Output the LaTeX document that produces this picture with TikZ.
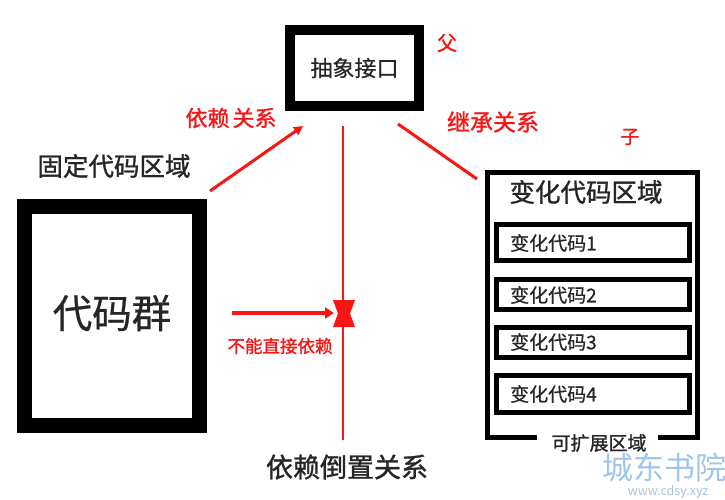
\documentclass[tikz,border=0pt]{standalone}
\usepackage{fontspec}
\setmainfont{Noto Sans CJK SC}
\newfontfamily\bcjk{Noto Sans CJK SC}[FakeBold=1.2]
\newfontfamily\mcjk{Noto Sans CJK SC}[FakeBold=0.6]
\usetikzlibrary{arrows.meta}
\definecolor{rd}{RGB}{250,20,20}
\definecolor{wm}{RGB}{160,198,236}
\definecolor{wm2}{RGB}{175,195,215}
\newcommand{\fs}[1]{\fontsize{#1}{#1}\selectfont}
\tikzset{
  lbl/.style={inner sep=0pt, text=black!85},
  rlbl/.style={inner sep=0pt, text=rd},
  heavy/.style={draw=black, line width=#1},
  rline/.style={draw=rd, line width=3pt},
}
\begin{document}
\begin{tikzpicture}[x=1pt,y=-1pt]
\useasboundingbox (0,0) rectangle (725,499);
\fill[white] (0,0) rectangle (725,499);
% abstract interface
\draw[heavy=10pt] (290,30) rectangle (419,106);
\node[lbl, font=\mcjk\fs{22}] (iface) at (354.5,68) {抽象接口};
\node[rlbl, font=\bcjk\fs{20}] (fu) at (447,43) {父};
\node[rlbl, font=\bcjk\fs{22}] (dep) at (231,118) {依赖\hspace{3pt}关系};
\node[rlbl, font=\bcjk\fs{23}] (inh) at (493,122) {继承关系};
\node[rlbl, font=\bcjk\fs{19}] (zi) at (630,137) {子};
% fixed region
\node[lbl, font=\bcjk\fs{25.5}] (fixed) at (114,166) {固定代码区域};
\draw[heavy=15pt] (24.5,206.5) rectangle (199.5,425.5);
\node[lbl, font=\mcjk\fs{39.5}] (grp) at (112,313) {代码群};
% connectors
\coordinate (a1) at (210,191);
\coordinate (a2) at (303,126);
\draw[rline, -{Triangle[length=9pt,width=9pt]}] (a1) -- (a2);
\coordinate (b1) at (398,124);
\coordinate (b2) at (477,179);
\draw[rline] (b1) -- (b2);
\coordinate (v1) at (343,126);
\coordinate (v2) at (343,440);
\draw[draw=rd, line width=1.6pt] (v1) -- (v2);
\coordinate (c1) at (232,313);
\coordinate (xm) at (343,313);
\draw[draw=rd, line width=4pt, -{Triangle[length=9pt,width=11pt]}] (c1) -- (334,313);
\fill[rd] (333,300) -- (355,300) -- (350,313.5) -- (355,327) -- (333,327) -- (338,313.5) -- cycle;
\node[rlbl, font=\bcjk\fs{17.5}] (nodep) at (280,346) {不能直接依赖};
\node[lbl, font=\bcjk\fs{27}] (dip) at (347,467) {依赖倒置关系};
% variable region
\draw[heavy=5.5pt] (537,437.5) -- (487.5,437.5) -- (487.5,172.5) -- (697.5,172.5) -- (697.5,437.5) -- (658,437.5);
\node[lbl, font=\bcjk\fs{25.5}] (var) at (586,192) {变化代码区域};
\node[lbl, font=\bcjk\fs{19}] (ext) at (599,443) {可扩展区域};
\draw[heavy=5pt] (496.5,224.5) rectangle (689.5,260.5);
\draw[heavy=5pt] (496.5,279.5) rectangle (689.5,309.5);
\draw[heavy=5pt] (496.5,327.5) rectangle (689.5,357.5);
\draw[heavy=5pt] (496.5,375.5) rectangle (689.5,412.5);
\node[lbl, font=\mcjk\fs{19}, anchor=west] (v1t) at (510,243) {变化代码1};
\node[lbl, font=\mcjk\fs{19}, anchor=west] (v2t) at (510,295) {变化代码2};
\node[lbl, font=\mcjk\fs{19}, anchor=west] (v3t) at (510,342) {变化代码3};
\node[lbl, font=\mcjk\fs{19}, anchor=west] (v4t) at (510,394) {变化代码4};
% watermark
\node[inner sep=0pt, text=wm, font=\fs{31}] (wmk) at (664,468) {城东书院};
\node[inner sep=0pt, text=wm2, font=\fs{12.5}] (wmu) at (668,492) {www.cdsy.xyz};
\end{tikzpicture}
\end{document}
